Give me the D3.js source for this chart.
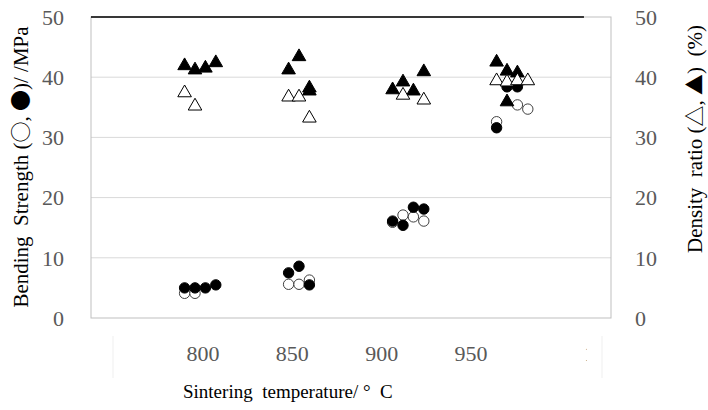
<!DOCTYPE html>
<html>
<head>
<meta charset="utf-8">
<script src="https://cdn.jsdelivr.net/npm/d3@7"></script>
<style>
  body { margin: 0; background: #fff; }
  text { font-family: "Liberation Serif", "Times New Roman", Times, "DejaVu Serif", serif; }
  tspan.sym { font-family: "Noto Sans CJK JP", "DejaVu Sans", sans-serif; }
</style>
</head>
<body>
<svg id="chart" width="708" height="410"></svg>
<script>
// Bending strength, open circles (temperature, MPa)
const strengthOpen = [
  [795, 4.1], [800, 4.1],
  [845, 5.6], [850, 5.6], [855, 6.3],
  [895, 15.9], [900, 17.1], [905, 16.8], [910, 16.1],
  [945, 32.6], [955, 35.4], [960, 34.7]
];
// Bending strength, filled circles
const strengthFilled = [
  [795, 5.0], [800, 5.0], [805, 5.0], [810, 5.5],
  [845, 7.5], [850, 8.6], [855, 5.5],
  [895, 16.1], [900, 15.4], [905, 18.4], [910, 18.1],
  [945, 31.6], [950, 38.4], [955, 38.4]
];
// Density ratio, open triangles (%)
const densityOpen = [
  [795, 37.4], [800, 35.2],
  [845, 36.7], [850, 36.7], [855, 33.2],
  [900, 37.0], [910, 36.2],
  [945, 39.4], [950, 39.2], [955, 39.4], [960, 39.4]
];
// Density ratio, filled triangles
const densityFilled = [
  [795, 41.9], [800, 41.2], [805, 41.5], [810, 42.4],
  [845, 41.2], [850, 43.4], [855, 38.2], [855, 37.7],
  [895, 37.9], [900, 39.2], [905, 37.7], [910, 40.9],
  [945, 42.5], [950, 41.0], [955, 40.7], [950, 35.9]
];
const yTicks = [0, 10, 20, 30, 40, 50];
const xTickLabels = [800, 850, 900, 950];

const svg = d3.select('#chart');
const plot = { left: 91, right: 611, top: 17, bottom: 318 };

const x = d3.scaleLinear().domain([750, 1000]).range([plot.left, plot.right]);
const y = d3.scaleLinear().domain([0, 50]).range([plot.bottom, plot.top]);
// the category labels under the chart sit on their own spacing
const xLabel = d3.scaleLinear().domain([800, 950]).range([203, 471]);

// gridlines
svg.append('g')
  .selectAll('line')
  .data(yTicks.filter(d => d > 0 && d < 50))
  .join('line')
  .attr('x1', plot.left).attr('x2', plot.right)
  .attr('y1', d => y(d)).attr('y2', d => y(d))
  .attr('stroke', '#d9d9d9').attr('stroke-width', 1);

// frame
svg.append('rect')
  .attr('x', plot.left).attr('y', plot.top)
  .attr('width', plot.right - plot.left).attr('height', plot.bottom - plot.top)
  .attr('fill', 'none').attr('stroke', '#bfbfbf').attr('stroke-width', 1);
svg.append('line')
  .attr('x1', plot.left).attr('x2', x(987))
  .attr('y1', y(50)).attr('y2', y(50))
  .attr('stroke', '#000').attr('stroke-width', 1.5);

// left axis labels
svg.append('g')
  .selectAll('text')
  .data(yTicks)
  .join('text')
  .attr('x', 64).attr('y', d => y(d))
  .attr('dy', '0.35em')
  .attr('text-anchor', 'end')
  .attr('fill', '#595959')
  .attr('font-size', 22)
  .text(d => d);

// right axis labels
svg.append('g')
  .selectAll('text')
  .data(yTicks)
  .join('text')
  .attr('x', 635).attr('y', d => y(d))
  .attr('dy', '0.35em')
  .attr('text-anchor', 'start')
  .attr('fill', '#595959')
  .attr('font-size', 22)
  .text(d => d);

// x labels
svg.append('g')
  .selectAll('text')
  .data(xTickLabels)
  .join('text')
  .attr('x', d => xLabel(d)).attr('y', 361)
  .attr('text-anchor', 'middle')
  .attr('fill', '#595959')
  .attr('font-size', 22)
  .text(d => d);

// cut-off 1000 label
svg.append('clipPath').attr('id', 'cut')
  .append('rect').attr('x', 583).attr('y', 330).attr('width', 4).attr('height', 40);
svg.append('text')
  .attr('clip-path', 'url(#cut)')
  .attr('x', xLabel(1000) + 24).attr('y', 361)
  .attr('fill', '#595959').attr('font-size', 22)
  .text(1000);

// faint frame edges of the label strip
svg.append('g')
  .selectAll('line')
  .data([113, 602])
  .join('line')
  .attr('x1', d => d).attr('x2', d => d)
  .attr('y1', 336).attr('y2', 378)
  .attr('stroke', '#efefef');

// axis titles
svg.append('text')
  .attr('x', 183).attr('y', 398)
  .attr('font-size', 19)
  .attr('fill', '#000')
  .attr('xml:space', 'preserve')
  .text('Sintering  temperature/ °  C');

function richTitle(sel, parts) {
  parts.forEach(p => {
    sel.append('tspan').attr('class', p.sym ? 'sym' : null).text(p.t);
  });
}

const leftTitle = svg.append('text')
  .attr('transform', 'translate(28,167) rotate(-90)')
  .attr('text-anchor', 'middle')
  .attr('font-size', 21)
  .attr('fill', '#000')
  .attr('xml:space', 'preserve');
richTitle(leftTitle, [
  { t: 'Bending  Strength (' }, { t: '○', sym: true }, { t: ', ' },
  { t: '●', sym: true }, { t: ')/ /MPa' }
]);

const rightTitle = svg.append('text')
  .attr('transform', 'translate(702,139) rotate(-90)')
  .attr('text-anchor', 'middle')
  .attr('font-size', 21)
  .attr('fill', '#000')
  .attr('xml:space', 'preserve');
richTitle(rightTitle, [
  { t: 'Density  ratio (' }, { t: '△', sym: true }, { t: ', ' },
  { t: '▲', sym: true }, { t: ')  (%)' }
]);

// markers
const circleSym = d3.symbol().type(d3.symbolCircle).size(85);
const triSym = d3.symbol().type(d3.symbolTriangle).size(80);

function drawSeries(data, sym, fill, stroke) {
  svg.append('g')
    .selectAll('path')
    .data(data)
    .join('path')
    .attr('transform', d => `translate(${x(d[0])},${y(d[1])})`)
    .attr('d', sym)
    .attr('fill', fill)
    .attr('stroke', stroke)
    .attr('stroke-width', 1);
}

drawSeries(strengthOpen, circleSym, '#fff', '#404040');
drawSeries(strengthFilled, circleSym, '#000', '#000');
drawSeries(densityFilled, triSym, '#000', '#000');
drawSeries(densityOpen, triSym, '#fff', '#000');
</script>
</body>
</html>
